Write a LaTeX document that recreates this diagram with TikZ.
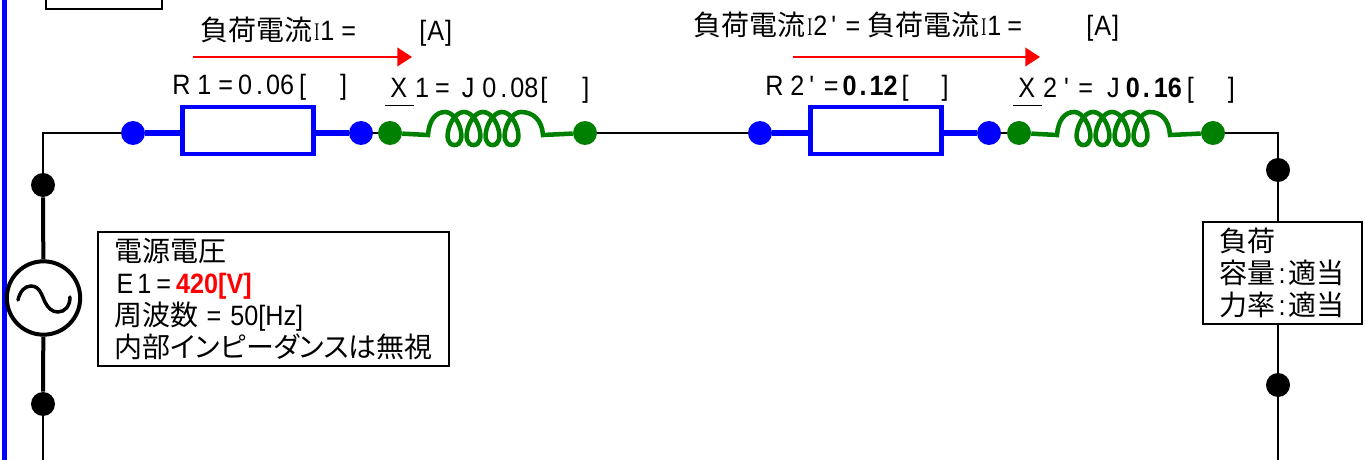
\documentclass[tikz,border=0pt]{standalone}
\usepackage{fontspec}
\usepackage{tikz}
\usetikzlibrary{arrows.meta}
\setmainfont[FakeStretch=0.9]{Liberation Sans}
\newfontfamily\jpfont[RawFeature=+palt]{Noto Sans CJK JP}
\newfontfamily\ifont[FakeStretch=0.6]{Liberation Serif}
\newcommand{\jp}[1]{{\jpfont #1}}
\newcommand{\smallI}{{\ifont\fontsize{19}{19}\selectfont I}}
\newcommand{\gp}[1]{\hspace{#1\dimexpr0.75pt\relax}}
\definecolor{ForestGreen}{rgb}{0,0.5,0}
\tikzset{
  txtlabel/.style={anchor=base west,inner sep=0pt,font=\fontsize{21}{24}\selectfont},
  wire/.style={line width=1.5pt,black},
  heavywire/.style={line width=3pt,black},
  bluedot/.style={circle,fill=blue,inner sep=0pt,minimum size=18pt},
  greendot/.style={circle,fill=ForestGreen,inner sep=0pt,minimum size=18pt},
  blackdot/.style={circle,fill=black,inner sep=0pt,minimum size=18pt},
  resistor/.style={draw=blue,line width=3.4pt,fill=white,inner sep=0pt,minimum width=98pt,minimum height=35pt},
  bluelead/.style={blue,line width=4.2pt},
  greenlead/.style={ForestGreen,line width=3.4pt},
  current/.style={red,line width=1.2pt,-{Triangle[length=11pt,width=14pt]}},
  infobox/.style={draw=black,line width=1.5pt,fill=white,anchor=north west,align=left,inner ysep=0pt,font=\fontsize{21}{24}\selectfont},
}
\begin{document}
\begin{tikzpicture}[x=0.75pt,y=0.75pt,yscale=-1,xscale=1]
\useasboundingbox (0,0) rectangle (1365,460);

%Left bar and top box
\draw [blue,line width=3.8pt] (4.5,-5) -- (4.5,465);
\draw [line width=1.5pt] (46,-20) rectangle (162,9);

%Terminals
\node [bluedot] (r1a) at (133,133) {};
\node [bluedot] (r1b) at (361,133) {};
\node [greendot] (x1a) at (390,133) {};
\node [greendot] (x1b) at (585,133) {};
\node [bluedot] (r2a) at (760,133) {};
\node [bluedot] (r2b) at (989,133) {};
\node [greendot] (x2a) at (1019,133) {};
\node [greendot] (x2b) at (1213,133) {};
\node [blackdot] (srctop) at (43,185) {};
\node [blackdot] (srcbot) at (43,404) {};
\node [blackdot] (loadtop) at (1278,170) {};
\node [blackdot] (loadbot) at (1278,385) {};
\coordinate (srcend) at (43,465);
\coordinate (loadend) at (1278,465);

%Thin wires
\draw [wire] (srctop) |- (r1a);
\draw [wire] (r1b) -- (x1a);
\draw [wire] (x1b) -- (r2a);
\draw [wire] (r2b) -- (x2a);
\draw [wire] (x2b) -| (loadtop);
\draw [wire] (loadtop) -- (loadbot);
\draw [wire] (srcbot) -- (srcend);
\draw [wire] (loadbot) -- (loadend);

%Resistors
\node [resistor] (r1) at (248,130.5) {};
\node [resistor] (r2) at (876,130.5) {};
\draw [bluelead] (r1a) -- (r1a -| r1.west);
\draw [bluelead] (r1b -| r1.east) -- (r1b);
\draw [bluelead] (r2a) -- (r2a -| r2.west);
\draw [bluelead] (r2b -| r2.east) -- (r2b);

%Coils
\draw [greenlead] (x1a) -- (428,135) .. controls (429,120) and (436,112) .. (445,112)
  \foreach \k in {1,...,4} { .. controls +(14,0) and +(14,0) .. ++(9.5,33) .. controls +(-14,0) and +(-14,0) .. ++(9.5,-33) }
  .. controls (533,112) and (542,120) .. (543,135) -- (x1b);
\draw [greenlead] (x2a) -- (1057,135) .. controls (1058,120) and (1065,112) .. (1074,112)
  \foreach \k in {1,...,4} { .. controls +(14,0) and +(14,0) .. ++(9.5,33) .. controls +(-14,0) and +(-14,0) .. ++(9.5,-33) }
  .. controls (1161,112) and (1169,120) .. (1170,135) -- (x2b);

%Source
\node [circle,draw=black,line width=3pt,fill=white,inner sep=0pt,minimum size=55pt] (src) at (43.5,298) {};
\draw [heavywire] (srctop) -- (src);
\draw [heavywire] (src) -- (srcbot);
\draw [line width=2.6pt,line cap=round] (18,300) .. controls (20,291) and (25,286) .. (31,286) .. controls (40,286) and (42,296) .. (45,302) .. controls (48,308) and (52,312) .. (58,312) .. controls (65,312) and (70,306) .. (70,297);

%Current arrows
\coordinate (i1a) at (193,57);
\coordinate (i1b) at (412,57);
\coordinate (i2a) at (793,57);
\coordinate (i2b) at (1040,57);
\draw [current] (i1a) -- (i1b);
\draw [current] (i2a) -- (i2b);

%Labels
\node [txtlabel] (i1text) at (200,41) {\jp{負荷電流}\gp{2}\smallI\gp{1}1\gp{7}=};
\node [txtlabel] (i1unit) at (419,41) {[\gp{1}A\gp{1}]};
\node [txtlabel] (i2text) at (693,36) {\jp{負荷電流}\gp{2}\smallI\gp{1}2\gp{4}\textquotesingle\gp{9}=\gp{7}\jp{負荷電流}\gp{2}\smallI\gp{1}1\gp{6}=};
\node [txtlabel] (i2unit) at (1086,36) {[\gp{1}A\gp{1}]};
\node [txtlabel] (r1text) at (172,95) {R\gp{7}1\gp{7}=\gp{5}0\gp{4}.\gp{3}06\gp{5}[\gp{34}]};
\node [txtlabel] (x1text) at (385,98) {\underline{\gp{5}X\gp{7}\vphantom{g}}\gp{1}1\gp{6}=\gp{12}J\gp{8}0\gp{4}.\gp{3}08\gp{2}[\gp{35}]};
\node [txtlabel] (r2text) at (765,96) {R\gp{7}2\gp{5}\textquotesingle\gp{9}=\gp{4}\textbf{0\gp{3}.\gp{3}12}\gp{4}[\gp{33}]};
\node [txtlabel] (x2text) at (1013,98) {\underline{\gp{5}X\gp{7}\vphantom{g}}\gp{1}2\gp{7}\textquotesingle\gp{9}=\gp{14}J\gp{6}\textbf{0\gp{3}.\gp{4}16}\gp{5}[\gp{34}]};

%Info boxes
\node [infobox,inner xsep=12.5pt,text width=238pt,minimum height=100.5pt] (srcbox) at (97,231)
  {\jp{電源電圧}\\\gp{2}E\gp{4}1\gp{5}=\gp{5}\textcolor{red}{\textbf{420[V]}}\\\jp{周波数}\gp{8}=\gp{9}50[Hz]\\\jp{内部インピーダンスは無視}};
\node [infobox,inner xsep=12.5pt,text width=94pt,minimum height=76.5pt] (loadbox) at (1202,221)
  {\jp{負荷}\\\mbox{\jp{容量}\gp{3}:\gp{3}\jp{適当}}\\\mbox{\jp{力率}\gp{3}:\gp{3}\jp{適当}}};
\end{tikzpicture}
\end{document}
